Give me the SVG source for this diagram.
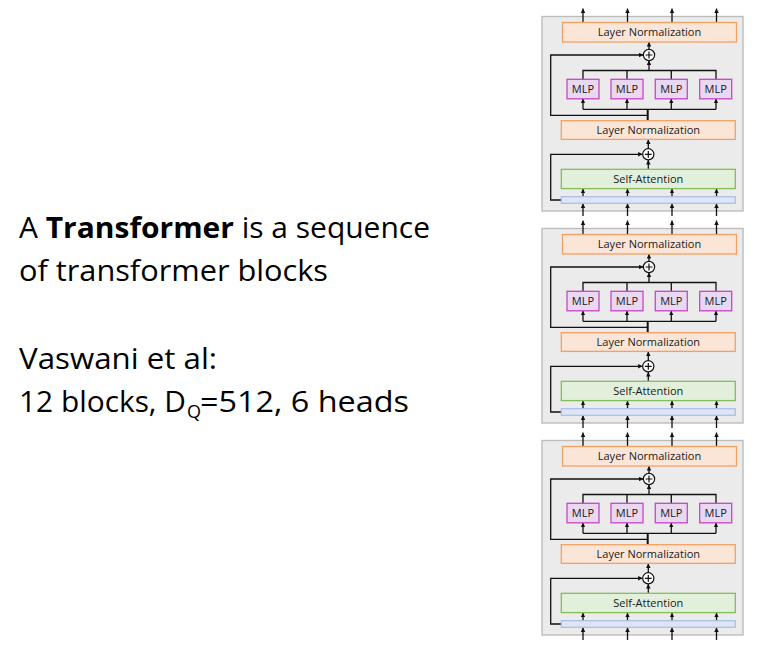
<svg xmlns="http://www.w3.org/2000/svg" xmlns:xlink="http://www.w3.org/1999/xlink" width="764" height="658" viewBox="0 0 764 658">
  <style>
    .frame { fill: #ebebeb; stroke: #bdbdbd; stroke-width: 1.4; }
    .ln { fill: #fbe5d6; stroke: #f2a164; stroke-width: 1.3; }
    .mlp { fill: #e8d8f2; stroke: #c845c8; stroke-width: 1.3; }
    .sa { fill: #e2efda; stroke: #84bd5c; stroke-width: 1.3; }
    .strip { fill: #dde5f5; stroke: #a8bde6; stroke-width: 1.2; }
    .sum { fill: #ffffff; stroke: #111111; stroke-width: 1.2; }
    .sum-mark { stroke: #111111; stroke-width: 1.2; fill: none; }
    .lbl { font-family: "Open Sans", "Liberation Sans", sans-serif; font-size: 11px; fill: #1a1a1a; text-anchor: middle; }
    .mlp-lbl { font-family: "Open Sans", "Liberation Sans", sans-serif; font-size: 11px; fill: #1a1a1a; text-anchor: middle; }
    .wire { fill: none; stroke: #111111; stroke-width: 1.3; }
    .arrow { fill: none; stroke: #111111; stroke-width: 1.3; marker-end: url(#head); }
    .trunk { fill: none; stroke: #111111; stroke-width: 2; }
    .body { font-family: "Open Sans", "Liberation Sans", sans-serif; font-size: 29px; fill: #000000; }
  </style>
  <defs>
    <marker id="head" viewBox="0 0 10 10" refX="10" refY="5" markerUnits="userSpaceOnUse" markerWidth="4.5" markerHeight="4.5" orient="auto">
      <path d="M0,0 L10,5 L0,10 z" fill="#111111"/>
    </marker>
  </defs>

  <!-- caption -->
  <g id="caption">
    <text class="body" x="19" y="237.5" textLength="411" lengthAdjust="spacingAndGlyphs">A <tspan font-weight="bold">Transformer</tspan> is a sequence</text>
    <text class="body" x="19" y="280.5" textLength="309" lengthAdjust="spacingAndGlyphs">of transformer blocks</text>
    <text class="body" x="19" y="368.5" textLength="198" lengthAdjust="spacingAndGlyphs">Vaswani et al:</text>
    <text class="body" x="19" y="412" textLength="167" lengthAdjust="spacingAndGlyphs">12 blocks, D</text>
    <text class="body" x="187" y="417.5" style="font-size:18px">Q</text>
    <text class="body" x="200" y="412" textLength="209" lengthAdjust="spacingAndGlyphs">=512, 6 heads</text>
  </g>

  <!-- block frames -->
  <g id="frames">
    <rect class="frame" x="542" y="16.5" width="201" height="194.5"/>
    <rect class="frame" x="542" y="228.5" width="201" height="194.5"/>
    <rect class="frame" x="542" y="440.5" width="201" height="194.5"/>
  </g>

  <!-- connectors, one set per block -->
  <g id="connectors">
    <g id="edges-1">
      <path class="arrow" d="M583 22.5 V8.5"/>
      <path class="arrow" d="M627.5 22.5 V8.5"/>
      <path class="arrow" d="M672 22.5 V8.5"/>
      <path class="arrow" d="M716.5 22.5 V8.5"/>
      <path class="arrow" d="M649 49.4 V42"/>
      <path class="wire" d="M583 79.3 V70.5 H716 V79.3 M627 70.5 V79.3 M671.3 70.5 V79.3"/>
      <path class="arrow" d="M649 70.5 V60.6"/>
      <path class="wire" d="M583 109.3 H716"/>
      <path class="arrow" d="M583 109.3 V98.8"/>
      <path class="arrow" d="M627 109.3 V98.8"/>
      <path class="arrow" d="M671.3 109.3 V98.8"/>
      <path class="arrow" d="M716 109.3 V98.8"/>
      <path class="trunk" d="M647.7 120.7 V109.3"/>
      <path class="arrow" d="M647.7 115.3 H550.7 V55 H643.3"/>
      <path class="arrow" d="M648.3 148.7 V139.4"/>
      <path class="arrow" d="M648.3 169.3 V160"/>
      <path class="arrow" d="M561.3 200 H550.7 V154.3 H642.6"/>
      <path class="arrow" d="M583 196.7 V188.7"/>
      <path class="arrow" d="M627.5 196.7 V188.7"/>
      <path class="arrow" d="M672 196.7 V188.7"/>
      <path class="arrow" d="M716.5 196.7 V188.7"/>
      <path class="arrow" d="M583 216 V203.4"/>
      <path class="arrow" d="M627.5 216 V203.4"/>
      <path class="arrow" d="M672 216 V203.4"/>
      <path class="arrow" d="M716.5 216 V203.4"/>
    </g>
    <g id="edges-2" transform="translate(0,212)">
      <path class="arrow" d="M583 22.5 V8.5"/>
      <path class="arrow" d="M627.5 22.5 V8.5"/>
      <path class="arrow" d="M672 22.5 V8.5"/>
      <path class="arrow" d="M716.5 22.5 V8.5"/>
      <path class="arrow" d="M649 49.4 V42"/>
      <path class="wire" d="M583 79.3 V70.5 H716 V79.3 M627 70.5 V79.3 M671.3 70.5 V79.3"/>
      <path class="arrow" d="M649 70.5 V60.6"/>
      <path class="wire" d="M583 109.3 H716"/>
      <path class="arrow" d="M583 109.3 V98.8"/>
      <path class="arrow" d="M627 109.3 V98.8"/>
      <path class="arrow" d="M671.3 109.3 V98.8"/>
      <path class="arrow" d="M716 109.3 V98.8"/>
      <path class="trunk" d="M647.7 120.7 V109.3"/>
      <path class="arrow" d="M647.7 115.3 H550.7 V55 H643.3"/>
      <path class="arrow" d="M648.3 148.7 V139.4"/>
      <path class="arrow" d="M648.3 169.3 V160"/>
      <path class="arrow" d="M561.3 200 H550.7 V154.3 H642.6"/>
      <path class="arrow" d="M583 196.7 V188.7"/>
      <path class="arrow" d="M627.5 196.7 V188.7"/>
      <path class="arrow" d="M672 196.7 V188.7"/>
      <path class="arrow" d="M716.5 196.7 V188.7"/>
      <path class="arrow" d="M583 216 V203.4"/>
      <path class="arrow" d="M627.5 216 V203.4"/>
      <path class="arrow" d="M672 216 V203.4"/>
      <path class="arrow" d="M716.5 216 V203.4"/>
    </g>
    <g id="edges-3" transform="translate(0,424)">
      <path class="arrow" d="M583 22.5 V8.5"/>
      <path class="arrow" d="M627.5 22.5 V8.5"/>
      <path class="arrow" d="M672 22.5 V8.5"/>
      <path class="arrow" d="M716.5 22.5 V8.5"/>
      <path class="arrow" d="M649 49.4 V42"/>
      <path class="wire" d="M583 79.3 V70.5 H716 V79.3 M627 70.5 V79.3 M671.3 70.5 V79.3"/>
      <path class="arrow" d="M649 70.5 V60.6"/>
      <path class="wire" d="M583 109.3 H716"/>
      <path class="arrow" d="M583 109.3 V98.8"/>
      <path class="arrow" d="M627 109.3 V98.8"/>
      <path class="arrow" d="M671.3 109.3 V98.8"/>
      <path class="arrow" d="M716 109.3 V98.8"/>
      <path class="trunk" d="M647.7 120.7 V109.3"/>
      <path class="arrow" d="M647.7 115.3 H550.7 V55 H643.3"/>
      <path class="arrow" d="M648.3 148.7 V139.4"/>
      <path class="arrow" d="M648.3 169.3 V160"/>
      <path class="arrow" d="M561.3 200 H550.7 V154.3 H642.6"/>
      <path class="arrow" d="M583 196.7 V188.7"/>
      <path class="arrow" d="M627.5 196.7 V188.7"/>
      <path class="arrow" d="M672 196.7 V188.7"/>
      <path class="arrow" d="M716.5 196.7 V188.7"/>
      <path class="arrow" d="M583 216 V203.4"/>
      <path class="arrow" d="M627.5 216 V203.4"/>
      <path class="arrow" d="M672 216 V203.4"/>
      <path class="arrow" d="M716.5 216 V203.4"/>
    </g>
  </g>

  <!-- block 1 nodes -->
  <g id="block-1">
    <g id="b1-norm-out"><rect class="ln" x="562.5" y="22.5" width="174" height="19.5"/><text class="lbl" x="649.5" y="36">Layer Normalization</text></g>
    <g id="b1-add-mlp"><circle class="sum" cx="649" cy="55" r="5.6"/><path class="sum-mark" d="M645.6 55 H652.4 M649 51.6 V58.4"/></g>
    <g id="b1-mlp-1"><rect class="mlp" x="567" y="79.3" width="32" height="19.5"/><text class="mlp-lbl" x="583" y="93">MLP</text></g>
    <g id="b1-mlp-2"><rect class="mlp" x="611" y="79.3" width="32" height="19.5"/><text class="mlp-lbl" x="627" y="93">MLP</text></g>
    <g id="b1-mlp-3"><rect class="mlp" x="655.3" y="79.3" width="32" height="19.5"/><text class="mlp-lbl" x="671.3" y="93">MLP</text></g>
    <g id="b1-mlp-4"><rect class="mlp" x="699.7" y="79.3" width="32" height="19.5"/><text class="mlp-lbl" x="715.7" y="93">MLP</text></g>
    <g id="b1-norm-mid"><rect class="ln" x="561.3" y="120.7" width="174" height="18.7"/><text class="lbl" x="648.3" y="134">Layer Normalization</text></g>
    <g id="b1-add-attn"><circle class="sum" cx="648.3" cy="154.3" r="5.6"/><path class="sum-mark" d="M644.9 154.3 H651.7 M648.3 150.9 V157.7"/></g>
    <g id="b1-attn"><rect class="sa" x="561.3" y="169.3" width="174" height="19.3"/><text class="lbl" x="648.3" y="182.7">Self-Attention</text></g>
    <g id="b1-input"><rect class="strip" x="561.3" y="196.7" width="174" height="6.6"/></g>
  </g>

  <!-- block 2 nodes -->
  <g id="block-2" transform="translate(0,212)">
    <g id="b2-norm-out"><rect class="ln" x="562.5" y="22.5" width="174" height="19.5"/><text class="lbl" x="649.5" y="36">Layer Normalization</text></g>
    <g id="b2-add-mlp"><circle class="sum" cx="649" cy="55" r="5.6"/><path class="sum-mark" d="M645.6 55 H652.4 M649 51.6 V58.4"/></g>
    <g id="b2-mlp-1"><rect class="mlp" x="567" y="79.3" width="32" height="19.5"/><text class="mlp-lbl" x="583" y="93">MLP</text></g>
    <g id="b2-mlp-2"><rect class="mlp" x="611" y="79.3" width="32" height="19.5"/><text class="mlp-lbl" x="627" y="93">MLP</text></g>
    <g id="b2-mlp-3"><rect class="mlp" x="655.3" y="79.3" width="32" height="19.5"/><text class="mlp-lbl" x="671.3" y="93">MLP</text></g>
    <g id="b2-mlp-4"><rect class="mlp" x="699.7" y="79.3" width="32" height="19.5"/><text class="mlp-lbl" x="715.7" y="93">MLP</text></g>
    <g id="b2-norm-mid"><rect class="ln" x="561.3" y="120.7" width="174" height="18.7"/><text class="lbl" x="648.3" y="134">Layer Normalization</text></g>
    <g id="b2-add-attn"><circle class="sum" cx="648.3" cy="154.3" r="5.6"/><path class="sum-mark" d="M644.9 154.3 H651.7 M648.3 150.9 V157.7"/></g>
    <g id="b2-attn"><rect class="sa" x="561.3" y="169.3" width="174" height="19.3"/><text class="lbl" x="648.3" y="182.7">Self-Attention</text></g>
    <g id="b2-input"><rect class="strip" x="561.3" y="196.7" width="174" height="6.6"/></g>
  </g>

  <!-- block 3 nodes -->
  <g id="block-3" transform="translate(0,424)">
    <g id="b3-norm-out"><rect class="ln" x="562.5" y="22.5" width="174" height="19.5"/><text class="lbl" x="649.5" y="36">Layer Normalization</text></g>
    <g id="b3-add-mlp"><circle class="sum" cx="649" cy="55" r="5.6"/><path class="sum-mark" d="M645.6 55 H652.4 M649 51.6 V58.4"/></g>
    <g id="b3-mlp-1"><rect class="mlp" x="567" y="79.3" width="32" height="19.5"/><text class="mlp-lbl" x="583" y="93">MLP</text></g>
    <g id="b3-mlp-2"><rect class="mlp" x="611" y="79.3" width="32" height="19.5"/><text class="mlp-lbl" x="627" y="93">MLP</text></g>
    <g id="b3-mlp-3"><rect class="mlp" x="655.3" y="79.3" width="32" height="19.5"/><text class="mlp-lbl" x="671.3" y="93">MLP</text></g>
    <g id="b3-mlp-4"><rect class="mlp" x="699.7" y="79.3" width="32" height="19.5"/><text class="mlp-lbl" x="715.7" y="93">MLP</text></g>
    <g id="b3-norm-mid"><rect class="ln" x="561.3" y="120.7" width="174" height="18.7"/><text class="lbl" x="648.3" y="134">Layer Normalization</text></g>
    <g id="b3-add-attn"><circle class="sum" cx="648.3" cy="154.3" r="5.6"/><path class="sum-mark" d="M644.9 154.3 H651.7 M648.3 150.9 V157.7"/></g>
    <g id="b3-attn"><rect class="sa" x="561.3" y="169.3" width="174" height="19.3"/><text class="lbl" x="648.3" y="182.7">Self-Attention</text></g>
    <g id="b3-input"><rect class="strip" x="561.3" y="196.7" width="174" height="6.6"/></g>
  </g>
</svg>
